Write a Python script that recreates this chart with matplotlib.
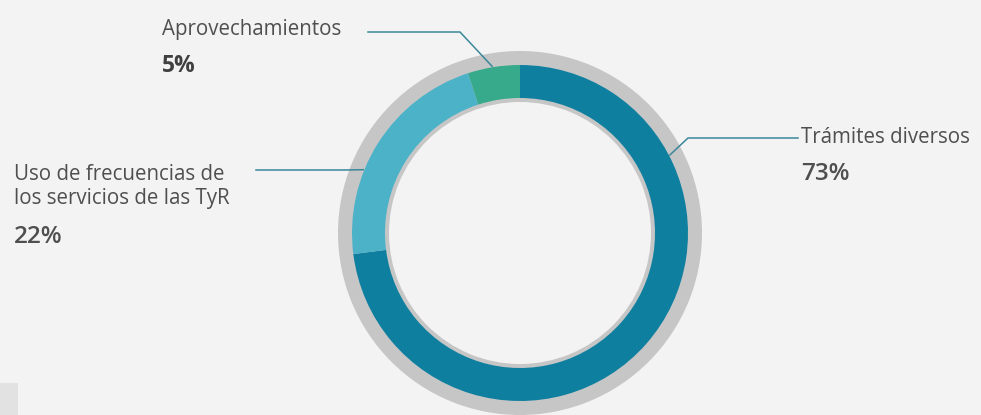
import matplotlib.pyplot as plt
import numpy as np

# data
labels = ["Trámites diversos", "Uso de frecuencias de\nlos servicios de las TyR", "Aprovechamientos"]
values = [73, 22, 5]
pct_text = ["73%", "22%", "5%"]
seg_colors = ["#0f7fa0", "#4cb2c8", "#36aa8a"]

W, H = 981, 415
bg = "#f3f3f3"
ring_gray = "#c6c6c6"
txt_col = "#4f4f4f"
line_col = "#3a8799"

fig = plt.figure(figsize=(W / 100, H / 100), dpi=100, facecolor=bg)
ax = fig.add_axes([0, 0, 1, 1])
ax.set_facecolor(bg)

cx, cy = 520, H - 233
# faint patch bottom left
ax.add_patch(plt.Rectangle((0, 0), 18, 32, color="#e2e2e2", lw=0, zorder=0))

# gray backing ring
ax.pie([1], radius=182, center=(cx, cy), colors=[ring_gray],
       wedgeprops=dict(width=51, linewidth=0), frame=True)
# data ring
ax.pie(values, radius=168, center=(cx, cy), colors=seg_colors, startangle=90,
       counterclock=False, wedgeprops=dict(width=33, linewidth=0), frame=True)
ax.set_xlim(0, W)
ax.set_ylim(0, H)
ax.set_aspect("equal")
ax.axis("off")


def ring_pt(ang, r=169):
    a = np.deg2rad(ang)
    return cx + r * np.cos(a), cy + r * np.sin(a)


fam = ["Open Sans", "DejaVu Sans"]
lab_fs = 14.8
pct_fs = 17.5


def label(x, y_base, text, step=24):
    for i, line in enumerate(text.split("\n")):
        ax.text(x, H - y_base - i * step, line, fontsize=lab_fs, color=txt_col,
                family=fam, va="baseline", ha="left")


# Trámites diversos
x0, y0 = ring_pt(27.5)
ax.plot([x0, 688, 798], [y0, H - 138, H - 138], color=line_col, lw=1.1)
label(801, 143, labels[0])
ax.text(801, H - 180, pct_text[0], fontsize=pct_fs, color=txt_col, family=fam,
        va="baseline", ha="left", fontweight="semibold")

# Uso de frecuencias
x0, y0 = ring_pt(158)
ax.plot([256, 345, x0], [H - 170, H - 170, y0], color=line_col, lw=1.1)
label(14, 180, labels[1])
ax.text(14, H - 243, pct_text[1], fontsize=pct_fs, color=txt_col, family=fam,
        va="baseline", ha="left", fontweight="semibold")

# Aprovechamientos
x0, y0 = ring_pt(99.5)
ax.plot([368, 460, x0], [H - 32, H - 32, y0], color=line_col, lw=1.1)
label(162, 35, labels[2])
ax.text(162, H - 72, pct_text[2], fontsize=pct_fs - 1, color="#404040", family=fam,
        va="baseline", ha="left", fontweight="bold")

fig.savefig("out.png", dpi=100, facecolor=bg)
